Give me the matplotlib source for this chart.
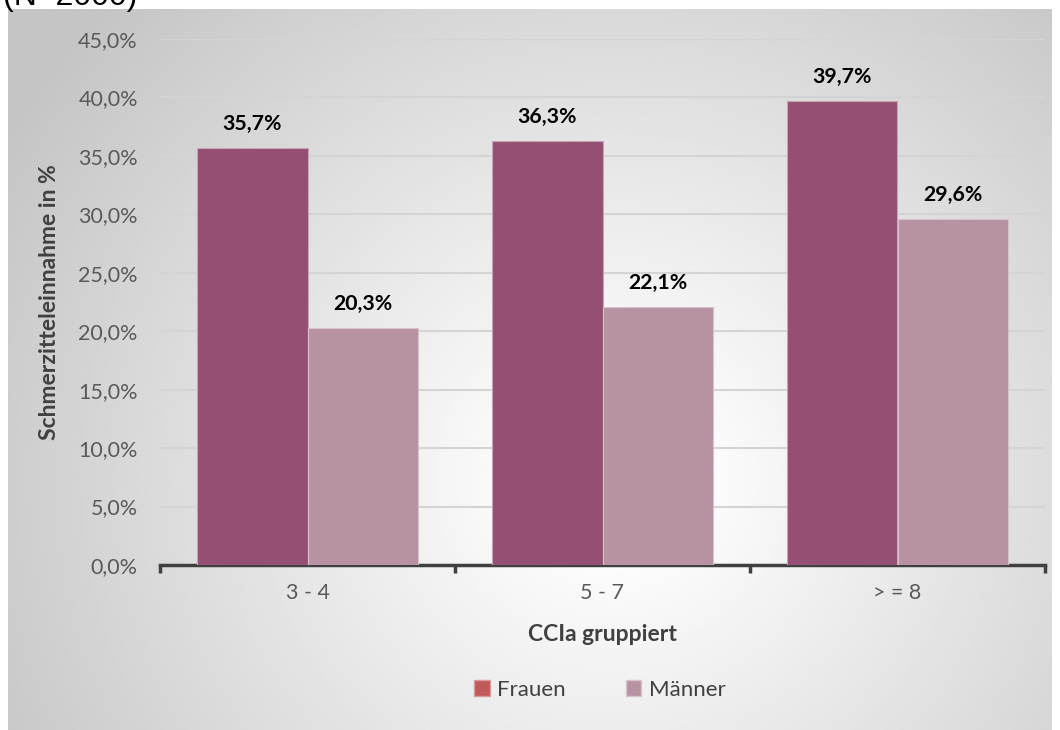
import numpy as np
import matplotlib
matplotlib.use("Agg")
import matplotlib.pyplot as plt
from matplotlib.patches import Patch
from matplotlib.ticker import FuncFormatter

plt.rcParams['font.family'] = ['Lato', 'DejaVu Sans']

categories = ['3 - 4', '5 - 7', '> = 8']
frauen = [35.7, 36.3, 39.7]
maenner = [20.3, 22.1, 29.6]
series_names = ['Frauen', 'Männer']

c_frauen = '#954f72'
c_maenner = '#b692a2'

W, H = 1060, 730
fig = plt.figure(figsize=(W / 100, H / 100), dpi=100)
fig.patch.set_facecolor('white')

# grey panel with a soft radial highlight
bg = fig.add_axes([8 / W, 0, (1052 - 8) / W, (H - 9) / H], zorder=0)
yy, xx = np.mgrid[0:1:300j, 0:1:400j]
r = np.sqrt(((xx - 0.58) * 1.4) ** 2 + ((yy - 0.65) * 1.0) ** 2)
shade = np.clip(1.02 - 0.25 * r / 0.95, 0.77, 1.0)
bg.imshow(shade, cmap='gray', vmin=0, vmax=1, aspect='auto',
          extent=[0, 1, 0, 1], interpolation='bilinear')
bg.set_axis_off()

# sample size line, mostly above the top edge
fig.text(3 / W, 1 - 5 / H, '(N=2000)', fontsize=23, family=['Liberation Sans'],
         color='black', ha='left', va='baseline')

ax = fig.add_axes([160 / W, (H - 565) / H, (1045 - 160) / W, (565 - 39) / H], zorder=1)
ax.set_facecolor('none')

x = np.arange(len(categories))
bw = 0.373
b1 = ax.bar(x - bw / 2, frauen, bw, color=c_frauen, edgecolor='#c9a3b6', linewidth=0.8, zorder=3)
b2 = ax.bar(x + bw / 2, maenner, bw, color=c_maenner, edgecolor='#d8c2cc', linewidth=0.8, zorder=3)

for bars, vals in ((b1, frauen), (b2, maenner)):
    for rect, v in zip(bars, vals):
        ax.annotate(f'{v:.1f}%'.replace('.', ','),
                    (rect.get_x() + rect.get_width() / 2, v),
                    xytext=(0, 10), textcoords='offset points',
                    ha='center', va='bottom', fontsize=15.3, fontweight='bold', color='black')

ax.set_xlim(-0.5, 2.5)
ax.set_ylim(0, 45)
ax.set_yticks(np.arange(0, 46, 5))
ax.yaxis.set_major_formatter(FuncFormatter(lambda v, p: f'{v:.1f}%'.replace('.', ',')))
ax.grid(axis='y', color='#d4d4d4', linewidth=1.5, zorder=0)
ax.set_axisbelow(True)

for s in ('top', 'right', 'left'):
    ax.spines[s].set_visible(False)
ax.spines['bottom'].set_color('#404040')
ax.spines['bottom'].set_linewidth(2.5)

ax.set_xticks(x)
ax.set_xticklabels(categories)
ax.set_xticks([-0.5, 0.5, 1.5, 2.5], minor=True)
ax.tick_params(axis='x', which='major', length=0, pad=13, labelsize=15.5, labelcolor='#595959')
ax.tick_params(axis='x', which='minor', length=6, width=2.5, color='#404040')
ax.tick_params(axis='y', length=0, pad=16, labelsize=15.5, labelcolor='#595959')

ax.set_xlabel('CCIa gruppiert', fontsize=16.5, fontweight='bold', color='#404040', labelpad=15)
ax.set_ylabel('Schmerzitteleinnahme in %', fontsize=16.5, fontweight='bold', color='#404040')
ax.yaxis.set_label_coords(-100 / 885, 0.5)

handles = [Patch(facecolor='#c0595a', edgecolor='#d99a9a'),
           Patch(facecolor=c_maenner, edgecolor='#d8c2cc')]
fig.legend(handles, series_names, loc='center', bbox_to_anchor=(600 / W, 1 - 690 / H),
           ncol=2, frameon=False, fontsize=16, labelcolor='#404040',
           handlelength=0.7, handleheight=0.7, handletextpad=0.35, columnspacing=2.7)

fig.savefig('out.png', dpi=100)
